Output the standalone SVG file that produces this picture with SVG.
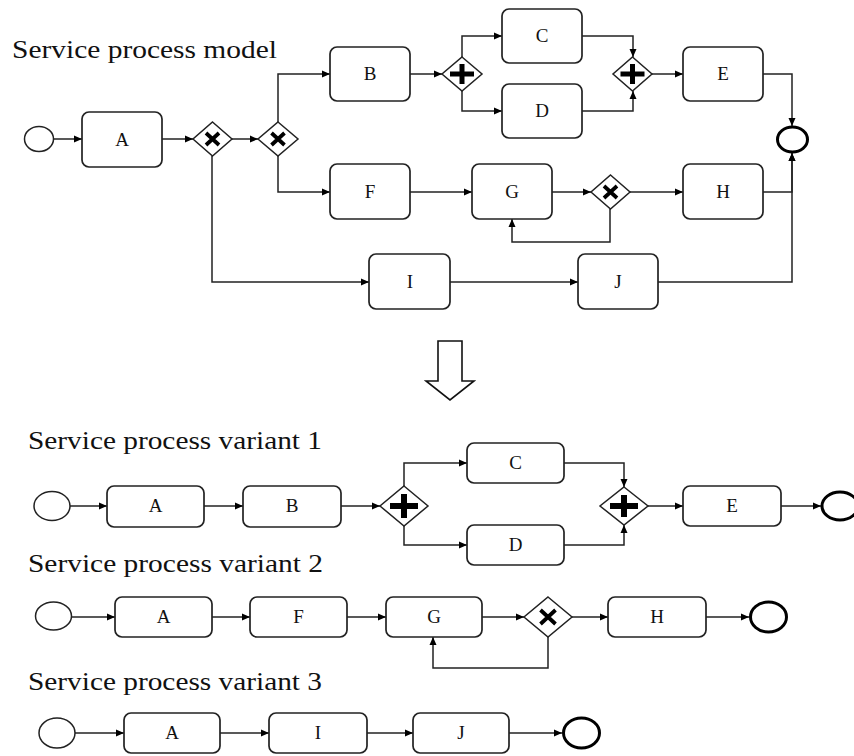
<svg xmlns="http://www.w3.org/2000/svg" width="854" height="756" viewBox="0 0 854 756">
<style>
.bg{fill:#fff}
.task{fill:#fff;stroke:#222;stroke-width:1.7}
.gw{fill:#fff;stroke:#222;stroke-width:1.5}
.start{fill:#fff;stroke:#222;stroke-width:1.5}
.end{fill:#fff;stroke:#000;stroke-width:3}
.lbl{font-family:"Liberation Serif","Times New Roman",serif;font-size:19px;fill:#111;text-anchor:middle}
.title{font-family:"Liberation Serif","Times New Roman",serif;font-size:25px;fill:#111}
.xm{stroke:#000;stroke-width:3.8;stroke-linecap:butt;fill:none}
.pm{stroke:#000;stroke-width:5;fill:none}
.pm2{stroke:#000;stroke-width:6;fill:none}
.edge{fill:none;stroke:#222;stroke-width:1.5}
</style>
<defs>
<marker id="ah" markerWidth="9" markerHeight="8" refX="8" refY="4" orient="auto" markerUnits="userSpaceOnUse">
<path d="M0,0.5 L8,4 L0,7.5 Z" fill="#000"/>
</marker>
</defs>
<rect class="bg" x="0" y="0" width="854" height="756"/>

<text class="title" x="12" y="58" textLength="265" lengthAdjust="spacingAndGlyphs">Service process model</text>
<text class="title" x="28" y="449" textLength="294" lengthAdjust="spacingAndGlyphs">Service process variant 1</text>
<text class="title" x="28" y="572" textLength="295" lengthAdjust="spacingAndGlyphs">Service process variant 2</text>
<text class="title" x="28" y="690" textLength="294" lengthAdjust="spacingAndGlyphs">Service process variant 3</text>

<g id="connectors">
<!-- main model -->
<path class="edge" marker-end="url(#ah)" d="M54,139 L82,139"/>
<path class="edge" marker-end="url(#ah)" d="M162,139 L193,139"/>
<path class="edge" marker-end="url(#ah)" d="M232,139 L258,139"/>
<path class="edge" marker-end="url(#ah)" d="M278,122 L278,74 L330,74"/>
<path class="edge" marker-end="url(#ah)" d="M278,156 L278,192 L330,192"/>
<path class="edge" marker-end="url(#ah)" d="M212,156 L212,282 L369,282"/>
<path class="edge" marker-end="url(#ah)" d="M410,74 L442,74"/>
<path class="edge" marker-end="url(#ah)" d="M462,57 L462,36 L502,36"/>
<path class="edge" marker-end="url(#ah)" d="M462,91 L462,111 L502,111"/>
<path class="edge" marker-end="url(#ah)" d="M582,36 L633,36 L633,57"/>
<path class="edge" marker-end="url(#ah)" d="M582,111 L633,111 L633,91"/>
<path class="edge" marker-end="url(#ah)" d="M652,74 L683,74"/>
<path class="edge" marker-end="url(#ah)" d="M763,74 L792,74 L792,126"/>
<path class="edge" marker-end="url(#ah)" d="M410,192 L472,192"/>
<path class="edge" marker-end="url(#ah)" d="M552,192 L591,192"/>
<path class="edge" marker-end="url(#ah)" d="M630,192 L683,192"/>
<path class="edge" marker-end="url(#ah)" d="M610,209 L610,242 L512,242 L512,219"/>
<path class="edge" marker-end="url(#ah)" d="M763,192 L792,192 L792,153"/>
<path class="edge" marker-end="url(#ah)" d="M450,282 L578,282"/>
<path class="edge" marker-end="url(#ah)" d="M658,282 L792,282 L792,153"/>
<!-- variant 1 -->
<path class="edge" marker-end="url(#ah)" d="M70,506 L107,506"/>
<path class="edge" marker-end="url(#ah)" d="M204,506 L243,506"/>
<path class="edge" marker-end="url(#ah)" d="M341,506 L380,506"/>
<path class="edge" marker-end="url(#ah)" d="M404,486 L404,463 L467,463"/>
<path class="edge" marker-end="url(#ah)" d="M404,526 L404,545 L467,545"/>
<path class="edge" marker-end="url(#ah)" d="M564,463 L624,463 L624,487"/>
<path class="edge" marker-end="url(#ah)" d="M564,545 L624,545 L624,525"/>
<path class="edge" marker-end="url(#ah)" d="M648,506 L683,506"/>
<path class="edge" marker-end="url(#ah)" d="M781,506 L821,506"/>
<!-- variant 2 -->
<path class="edge" marker-end="url(#ah)" d="M72,617 L115,617"/>
<path class="edge" marker-end="url(#ah)" d="M212,617 L250,617"/>
<path class="edge" marker-end="url(#ah)" d="M347,617 L386,617"/>
<path class="edge" marker-end="url(#ah)" d="M482,617 L524,617"/>
<path class="edge" marker-end="url(#ah)" d="M572,617 L608,617"/>
<path class="edge" marker-end="url(#ah)" d="M706,617 L749,617"/>
<path class="edge" marker-end="url(#ah)" d="M548,637 L548,668 L433,668 L433,637"/>
<!-- variant 3 -->
<path class="edge" marker-end="url(#ah)" d="M75,733 L124,733"/>
<path class="edge" marker-end="url(#ah)" d="M220,733 L269,733"/>
<path class="edge" marker-end="url(#ah)" d="M367,733 L413,733"/>
<path class="edge" marker-end="url(#ah)" d="M509,733 L562,733"/>
</g>

<!-- transformation arrow -->
<polygon points="438,341 462,341 462,381 474,381 450,400 426,381 438,381" fill="#fff" stroke="#111" stroke-width="1.6"/>

<!-- main model nodes -->
<g id="m-start"><ellipse class="start" cx="39" cy="139" rx="14.5" ry="12.5"/></g>
<g id="m-A"><rect class="task" x="82" y="112" width="80" height="55" rx="7"/><text class="lbl" x="122" y="146">A</text></g>
<g id="m-x1"><polygon class="gw" points="212.5,122 232,139 212.5,156 193,139"/><path class="xm" d="M206,133 L219,145 M219,133 L206,145"/></g>
<g id="m-x2"><polygon class="gw" points="278,122 298,139 278,156 258,139"/><path class="xm" d="M271.5,133 L284.5,145 M284.5,133 L271.5,145"/></g>
<g id="m-B"><rect class="task" x="330" y="47" width="80" height="54" rx="7"/><text class="lbl" x="370" y="80">B</text></g>
<g id="m-F"><rect class="task" x="330" y="164" width="80" height="55" rx="7"/><text class="lbl" x="370" y="198">F</text></g>
<g id="m-p1"><polygon class="gw" points="462,57 482,74 462,91 442,74"/><path class="pm" d="M450,74 L474,74 M462,64 L462,84"/></g>
<g id="m-C"><rect class="task" x="502" y="9" width="80" height="54" rx="7"/><text class="lbl" x="542" y="42">C</text></g>
<g id="m-D"><rect class="task" x="502" y="84" width="80" height="54" rx="7"/><text class="lbl" x="542" y="117">D</text></g>
<g id="m-p2"><polygon class="gw" points="632.5,57 652,74 632.5,91 613,74"/><path class="pm" d="M620.5,74 L644.5,74 M632.5,64 L632.5,84"/></g>
<g id="m-E"><rect class="task" x="683" y="47" width="80" height="54" rx="7"/><text class="lbl" x="723" y="80">E</text></g>
<g id="m-G"><rect class="task" x="472" y="164" width="80" height="55" rx="7"/><text class="lbl" x="512" y="198">G</text></g>
<g id="m-x3"><polygon class="gw" points="610.5,175 630,192 610.5,209 591,192"/><path class="xm" d="M604,186 L617,198 M617,186 L604,198"/></g>
<g id="m-H"><rect class="task" x="683" y="164" width="80" height="55" rx="7"/><text class="lbl" x="723" y="198">H</text></g>
<g id="m-I"><rect class="task" x="369" y="254" width="81" height="55" rx="7"/><text class="lbl" x="410" y="288">I</text></g>
<g id="m-J"><rect class="task" x="578" y="254" width="80" height="55" rx="7"/><text class="lbl" x="618" y="288">J</text></g>
<g id="m-end"><ellipse class="end" cx="792.5" cy="139.5" rx="15" ry="12.5"/></g>

<!-- variant 1 -->
<g id="v1-start"><ellipse class="start" cx="52" cy="506" rx="18" ry="14.5"/></g>
<g id="v1-A"><rect class="task" x="107" y="486" width="97" height="41" rx="7"/><text class="lbl" x="155.5" y="512">A</text></g>
<g id="v1-B"><rect class="task" x="243" y="486" width="98" height="41" rx="7"/><text class="lbl" x="292" y="512">B</text></g>
<g id="v1-p1"><polygon class="gw" points="404,486 428,506 404,526 380,506"/><path class="pm2" d="M390,506 L418,506 M404,494 L404,518"/></g>
<g id="v1-C"><rect class="task" x="467" y="443" width="97" height="40" rx="7"/><text class="lbl" x="515.5" y="469">C</text></g>
<g id="v1-D"><rect class="task" x="467" y="525" width="97" height="40" rx="7"/><text class="lbl" x="515.5" y="551">D</text></g>
<g id="v1-p2"><polygon class="gw" points="624,487 648,506 624,525 600,506"/><path class="pm2" d="M610,506 L638,506 M624,495 L624,517"/></g>
<g id="v1-E"><rect class="task" x="683" y="486" width="98" height="40" rx="7"/><text class="lbl" x="732" y="512">E</text></g>
<g id="v1-end"><ellipse class="end" cx="840" cy="506" rx="18" ry="14"/></g>

<!-- variant 2 -->
<g id="v2-start"><ellipse class="start" cx="53.5" cy="616" rx="18" ry="14"/></g>
<g id="v2-A"><rect class="task" x="115" y="597" width="97" height="40" rx="7"/><text class="lbl" x="163.5" y="623">A</text></g>
<g id="v2-F"><rect class="task" x="250" y="597" width="97" height="40" rx="7"/><text class="lbl" x="298.5" y="623">F</text></g>
<g id="v2-G"><rect class="task" x="386" y="597" width="96" height="40" rx="7"/><text class="lbl" x="434" y="623">G</text></g>
<g id="v2-x"><polygon class="gw" points="548,597 572,617 548,637 524,617"/><path class="xm" d="M540.5,610 L555.5,624 M555.5,610 L540.5,624"/></g>
<g id="v2-H"><rect class="task" x="608" y="597" width="98" height="40" rx="7"/><text class="lbl" x="657" y="623">H</text></g>
<g id="v2-end"><ellipse class="end" cx="768.5" cy="617" rx="18" ry="15"/></g>

<!-- variant 3 -->
<g id="v3-start"><ellipse class="start" cx="57" cy="733" rx="18" ry="15"/></g>
<g id="v3-A"><rect class="task" x="124" y="713" width="96" height="40" rx="7"/><text class="lbl" x="172" y="739">A</text></g>
<g id="v3-I"><rect class="task" x="269" y="713" width="98" height="40" rx="7"/><text class="lbl" x="318" y="739">I</text></g>
<g id="v3-J"><rect class="task" x="413" y="713" width="96" height="40" rx="7"/><text class="lbl" x="461" y="739">J</text></g>
<g id="v3-end"><ellipse class="end" cx="581.5" cy="733" rx="18" ry="15"/></g>
</svg>
